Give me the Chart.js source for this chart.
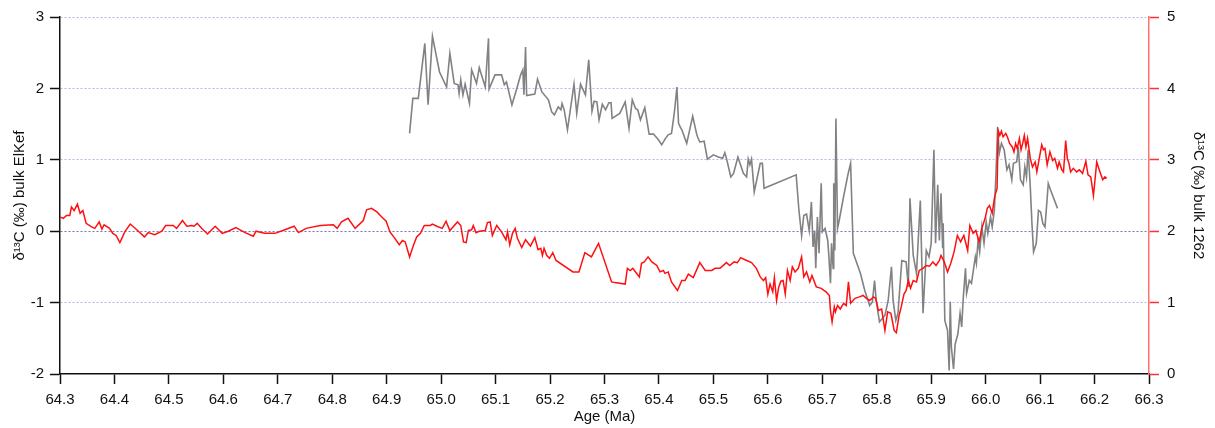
<!DOCTYPE html>
<html>
<head>
<meta charset="utf-8">
<script src="https://cdn.jsdelivr.net/npm/chart.js@4"></script>
<style>
  body { margin: 0; background: #fff; }
  canvas { display: block; }
</style>
</head>
<body>
<canvas id="chart" width="1215" height="428"></canvas>
<script>
// El Kef bulk d13C (left axis)
const ageElKef = [
  64.942, 64.948, 64.958, 64.970, 64.976, 64.984, 64.997, 65.010, 65.016, 65.024,
  65.031, 65.033, 65.036, 65.040, 65.044, 65.052, 65.056, 65.065, 65.070, 65.081,
  65.087, 65.088, 65.099, 65.111, 65.116, 65.120, 65.130, 65.139, 65.146, 65.150,
  65.152, 65.155, 65.157, 65.172, 65.177, 65.185, 65.197, 65.203, 65.208, 65.215,
  65.220, 65.222, 65.226, 65.232, 65.244, 65.249, 65.256, 65.265, 65.271, 65.277,
  65.281, 65.286, 65.290, 65.296, 65.302, 65.308, 65.312, 65.314, 65.328, 65.338,
  65.345, 65.351, 65.357, 65.361, 65.366, 65.374, 65.382, 65.390, 65.399, 65.405,
  65.412, 65.417, 65.423, 65.426, 65.429, 65.433, 65.436, 65.439, 65.442, 65.451,
  65.457, 65.462, 65.469, 65.471, 65.475, 65.483, 65.489, 65.500, 65.509, 65.517,
  65.521, 65.524, 65.532, 65.537, 65.545, 65.555, 65.561, 65.564, 65.567, 65.570,
  65.575, 65.586, 65.590, 65.593, 65.652, 65.657, 65.662, 65.666, 65.671, 65.676,
  65.680, 65.683, 65.686, 65.688, 65.691, 65.694, 65.698, 65.700, 65.705, 65.710,
  65.712, 65.715, 65.717, 65.720, 65.721, 65.723, 65.725, 65.728, 65.731, 65.739,
  65.747, 65.752, 65.757, 65.770, 65.778, 65.787, 65.792, 65.796, 65.799, 65.805,
  65.815, 65.821, 65.827, 65.830, 65.835, 65.839, 65.846, 65.854, 65.858, 65.861,
  65.867, 65.873, 65.880, 65.885, 65.891, 65.896, 65.900, 65.905, 65.908, 65.912,
  65.915, 65.918, 65.921, 65.922, 65.925, 65.930, 65.933, 65.935, 65.937, 65.941,
  65.944, 65.949, 65.953, 65.956, 65.959, 65.963, 65.965, 65.970, 65.974, 65.981,
  65.983, 65.986, 65.989, 65.993, 65.997, 66.001, 66.004, 66.009, 66.012, 66.016,
  66.019, 66.022, 66.025, 66.029, 66.034, 66.039, 66.043, 66.048, 66.051, 66.057,
  66.060, 66.064, 66.069, 66.072, 66.075, 66.078, 66.082, 66.085, 66.088, 66.093,
  66.097, 66.101, 66.105, 66.109, 66.115, 66.119, 66.132
];
const d13cElKef = [
  1.37, 1.86, 1.86, 2.63, 1.77, 2.73, 2.23, 2.02, 2.49, 2.07,
  2.05, 1.93, 2.12, 1.91, 2.06, 1.79, 2.26, 2.07, 2.29, 2.02,
  2.70, 1.99, 2.19, 2.19, 2.05, 2.09, 1.77, 2.00, 2.19, 2.26,
  1.91, 2.58, 1.90, 1.92, 2.13, 1.95, 1.84, 1.67, 1.63, 1.74,
  1.70, 1.79, 1.70, 1.42, 2.06, 1.65, 2.06, 1.91, 2.40, 1.68,
  1.82, 1.81, 1.56, 1.78, 1.70, 1.80, 1.80, 1.58, 1.65, 1.81,
  1.44, 1.84, 1.72, 1.70, 1.56, 1.73, 1.36, 1.36, 1.28, 1.21,
  1.30, 1.35, 1.37, 1.53, 1.71, 2.02, 1.51, 1.46, 1.42, 1.23,
  1.44, 1.61, 1.37, 1.32, 1.25, 1.26, 1.01, 1.07, 1.04, 1.02,
  1.10, 1.02, 0.76, 0.81, 1.04, 0.81, 0.76, 1.01, 0.93, 1.01,
  0.55, 0.95, 0.95, 0.60, 0.79, 0.30, -0.06, 0.22, 0.24, 0.01,
  0.41, -0.22, 0.01, -0.52, 0.20, -0.31, 0.67, -0.01, 0.04, -0.13,
  -0.34, -0.73, -0.17, -0.52, 0.67, -0.27, 1.58, 0.04, 0.15, 0.48,
  0.79, 0.95, -0.31, -0.59, -0.83, -1.04, -0.99, -0.69, -0.97, -1.27,
  -1.18, -0.97, -0.50, -0.97, -1.25, -1.15, -0.41, -0.43, -0.78, 0.46,
  -0.34, -0.59, 0.43, -1.15, -0.27, -0.36, -0.17, 1.14, -0.17, 0.65,
  -0.13, 0.53, -0.24, 0.11, -1.25, -1.39, -1.95, -0.99, -1.62, -1.93,
  -1.58, -1.44, -1.15, -1.34, -0.92, -0.52, -0.87, -0.69, -0.73, -0.36,
  -0.45, -0.13, -0.29, 0.06, -0.17, 0.13, -0.03, 0.20, 0.06, 0.29,
  0.81, 1.46, 1.09, 1.23, 1.14, 0.86, 0.93, 0.72, 0.95, 0.97,
  1.18, 0.72, 0.65, 0.90, 0.76, 1.14, 0.62, 0.11, -0.29, -0.17,
  0.29, 0.27, 0.11, 0.06, 0.67, 0.58, 0.32
];

// Site 1262 bulk d13C (right axis)
const age1262 = [
  64.300, 64.306, 64.312, 64.318, 64.321, 64.326, 64.332, 64.337, 64.342, 64.348,
  64.358, 64.364, 64.372, 64.377, 64.381, 64.391, 64.397, 64.403, 64.410, 64.419,
  64.429, 64.441, 64.455, 64.462, 64.474, 64.487, 64.494, 64.508, 64.514, 64.525,
  64.533, 64.542, 64.546, 64.552, 64.560, 64.571, 64.585, 64.598, 64.609, 64.623,
  64.640, 64.655, 64.660, 64.676, 64.695, 64.713, 64.730, 64.738, 64.752, 64.778,
  64.802, 64.809, 64.817, 64.829, 64.842, 64.857, 64.863, 64.872, 64.882, 64.891,
  64.899, 64.906, 64.915, 64.923, 64.929, 64.934, 64.942, 64.949, 64.955, 64.962,
  64.969, 64.980, 64.984, 64.992, 65.002, 65.009, 65.016, 65.030, 65.036, 65.041,
  65.046, 65.050, 65.056, 65.059, 65.064, 65.070, 65.081, 65.085, 65.090, 65.094,
  65.102, 65.111, 65.119, 65.122, 65.126, 65.131, 65.136, 65.140, 65.148, 65.155,
  65.164, 65.172, 65.178, 65.183, 65.186, 65.189, 65.194, 65.199, 65.205, 65.211,
  65.242, 65.253, 65.264, 65.276, 65.289, 65.313, 65.319, 65.338, 65.342, 65.347,
  65.352, 65.356, 65.364, 65.368, 65.373, 65.380, 65.387, 65.396, 65.402, 65.408,
  65.411, 65.417, 65.423, 65.434, 65.442, 65.448, 65.454, 65.463, 65.475, 65.485,
  65.497, 65.503, 65.512, 65.524, 65.530, 65.538, 65.544, 65.550, 65.558, 65.570,
  65.579, 65.586, 65.592, 65.596, 65.600, 65.604, 65.609, 65.612, 65.616, 65.620,
  65.624, 65.628, 65.632, 65.636, 65.641, 65.645, 65.650, 65.656, 65.662, 65.666,
  65.671, 65.677, 65.681, 65.689, 65.698, 65.703, 65.707, 65.713, 65.715, 65.718,
  65.722, 65.724, 65.728, 65.733, 65.739, 65.744, 65.748, 65.752, 65.760, 65.768,
  65.775, 65.781, 65.787, 65.794, 65.798, 65.803, 65.809, 65.815, 65.820, 65.826,
  65.832, 65.836, 65.841, 65.845, 65.850, 65.854, 65.858, 65.862, 65.867, 65.873,
  65.878, 65.885, 65.891, 65.897, 65.903, 65.909, 65.915, 65.918, 65.924, 65.930,
  65.936, 65.942, 65.948, 65.954, 65.960, 65.967, 65.971, 65.977, 65.982, 65.988,
  65.993, 65.999, 66.003, 66.007, 66.012, 66.016, 66.019, 66.021, 66.023, 66.026,
  66.029, 66.032, 66.037, 66.040, 66.044, 66.049, 66.052, 66.055, 66.058, 66.062,
  66.065, 66.068, 66.071, 66.074, 66.077, 66.082, 66.086, 66.091, 66.094, 66.099,
  66.103, 66.106, 66.109, 66.113, 66.118, 66.123, 66.127, 66.132, 66.135, 66.140,
  66.143, 66.147, 66.150, 66.153, 66.156, 66.161, 66.167, 66.172, 66.178, 66.184,
  66.188, 66.193, 66.198, 66.204, 66.210, 66.215, 66.219, 66.222
];
const d13c1262 = [
  2.20, 2.18, 2.22, 2.22, 2.34, 2.29, 2.38, 2.25, 2.29, 2.11,
  2.06, 2.04, 2.13, 2.03, 2.09, 2.04, 1.97, 1.94, 1.84, 1.99,
  2.10, 2.02, 1.92, 1.98, 1.95, 2.00, 2.08, 2.08, 2.04, 2.15,
  2.07, 2.08, 2.07, 2.11, 2.04, 1.96, 2.07, 1.97, 2.00, 2.05,
  1.98, 1.93, 2.00, 1.97, 1.97, 2.02, 2.07, 1.98, 2.04, 2.08,
  2.09, 2.04, 2.13, 2.18, 2.04, 2.15, 2.30, 2.32, 2.27, 2.20,
  2.14, 1.99, 1.90, 1.81, 1.87, 1.85, 1.64, 1.80, 1.92, 1.97,
  2.08, 2.08, 2.10, 2.07, 2.04, 2.14, 2.01, 2.13, 2.08, 1.85,
  1.84, 2.01, 2.02, 2.08, 1.98, 2.00, 2.01, 2.12, 2.13, 1.94,
  2.08, 1.99, 1.88, 1.99, 1.81, 1.97, 2.04, 1.90, 1.77, 1.88,
  1.79, 1.91, 1.74, 1.76, 1.66, 1.76, 1.66, 1.62, 1.70, 1.59,
  1.43, 1.43, 1.70, 1.64, 1.83, 1.29, 1.28, 1.26, 1.48, 1.45,
  1.48, 1.44, 1.36, 1.55, 1.57, 1.64, 1.57, 1.52, 1.43, 1.45,
  1.41, 1.43, 1.29, 1.17, 1.31, 1.31, 1.40, 1.35, 1.56, 1.45,
  1.45, 1.48, 1.48, 1.56, 1.52, 1.57, 1.56, 1.63, 1.60, 1.56,
  1.48, 1.36, 1.31, 1.35, 1.12, 1.26, 1.15, 1.35, 1.03, 1.22,
  1.30, 1.31, 1.12, 1.45, 1.31, 1.50, 1.43, 1.48, 1.64, 1.36,
  1.43, 1.29, 1.38, 1.22, 1.20, 1.17, 1.15, 1.10, 0.89, 0.73,
  0.94, 0.87, 0.96, 0.91, 0.99, 0.96, 1.29, 0.99, 1.06, 1.08,
  1.10, 1.06, 1.03, 1.08, 1.06, 0.89, 0.91, 0.61, 0.87, 0.85,
  0.61, 0.58, 0.82, 0.94, 1.12, 1.17, 1.31, 1.20, 1.31, 1.29,
  1.45, 1.48, 1.52, 1.51, 1.57, 1.52, 1.59, 1.66, 1.57, 1.43,
  1.55, 1.71, 1.94, 1.85, 1.94, 1.73, 2.08, 1.97, 2.01, 1.85,
  2.04, 2.18, 2.32, 2.36, 2.25, 2.46, 2.55, 2.60, 3.41, 3.34,
  3.40, 3.32, 3.37, 3.32, 3.23, 3.18, 3.11, 3.23, 3.16, 3.30,
  3.14, 3.23, 3.34, 3.18, 3.30, 3.02, 2.90, 2.97, 2.83, 3.04,
  3.21, 3.14, 3.16, 2.93, 3.11, 2.99, 3.02, 2.88, 2.97, 2.86,
  2.83, 3.27, 3.02, 2.95, 2.83, 2.88, 2.83, 2.86, 2.81, 2.98,
  2.79, 2.76, 2.50, 2.97, 2.83, 2.72, 2.76, 2.74
];

const xTicks = [64.3, 64.4, 64.5, 64.6, 64.7, 64.8, 64.9, 65.0, 65.1, 65.2, 65.3,
  65.4, 65.5, 65.6, 65.7, 65.8, 65.9, 66.0, 66.1, 66.2, 66.3];
const leftTicks = [-2, -1, 0, 1, 2, 3];
const rightTicks = [0, 1, 2, 3, 4, 5];

const toPoints = (xs, ys) => xs.map((x, i) => ({ x: x, y: ys[i] }));
const setTicks = (values) => (scale) => {
  scale.ticks = values.map(v => ({ value: v }));
};

const tickFont = { family: 'Liberation Sans, Arial, sans-serif', size: 15 };
const titleFont = { family: 'Liberation Sans, Arial, sans-serif', size: 15 };

const ctx = document.getElementById('chart').getContext('2d');
const myChart = new Chart(ctx, {
  type: 'line',
  data: {
    datasets: [
      {
        label: '1262',
        data: toPoints(age1262, d13c1262),
        yAxisID: 'yRight',
        borderColor: '#ff1010',
        borderWidth: 1.5,
        pointRadius: 0,
        tension: 0
      },
      {
        label: 'ElKef',
        data: toPoints(ageElKef, d13cElKef),
        yAxisID: 'yLeft',
        borderColor: '#828282',
        borderWidth: 1.6,
        pointRadius: 0,
        tension: 0
      }
    ]
  },
  options: {
    responsive: false,
    animation: false,
    events: [],
    layout: { padding: { top: 17, left: 0, right: 0, bottom: 0 } },
    plugins: {
      legend: { display: false },
      tooltip: { enabled: false }
    },
    scales: {
      x: {
        type: 'linear',
        min: 64.3,
        max: 66.3,
        afterBuildTicks: setTicks(xTicks),
        afterFit: (scale) => { scale.height = 54; },
        grid: {
          drawOnChartArea: false,
          tickLength: 10,
          tickColor: '#111',
          tickWidth: 1.5
        },
        border: { color: '#111', width: 1.5 },
        ticks: {
          font: tickFont,
          color: '#111',
          padding: 7,
          maxRotation: 0,
          autoSkip: false,
          callback: (v) => v.toFixed(1)
        },
        title: {
          display: true,
          text: 'Age (Ma)',
          font: titleFont,
          color: '#111',
          padding: { top: 0, bottom: 2 }
        }
      },
      yLeft: {
        type: 'linear',
        position: 'left',
        min: -2,
        max: 3,
        afterBuildTicks: setTicks(leftTicks),
        afterFit: (scale) => { scale.width = 60; },
        grid: {
          color: (c) => c.tick.value === 0 ? 'rgba(90,90,190,0.85)'
            : (c.tick.value === -2 ? 'rgba(0,0,0,0)' : 'rgba(150,150,225,0.7)'),
          lineWidth: 1,
          tickLength: 10,
          tickColor: '#111',
          tickWidth: 1.5
        },
        border: { color: '#111', width: 1.5, dash: [2, 2] },
        ticks: {
          font: tickFont,
          color: '#111',
          padding: 6,
          callback: (v) => String(v)
        },
        title: {
          display: true,
          text: 'δ¹³C (‰) bulk ElKef',
          font: titleFont,
          color: '#111',
          padding: { top: 11, bottom: 0 }
        }
      },
      yRight: {
        type: 'linear',
        position: 'right',
        min: 0,
        max: 5,
        afterBuildTicks: setTicks(rightTicks),
        afterFit: (scale) => { scale.width = 66; },
        grid: {
          drawOnChartArea: false,
          tickLength: 10,
          tickColor: '#ff3030',
          tickWidth: 1.5
        },
        border: { color: '#ff7070', width: 1.5 },
        ticks: {
          font: tickFont,
          color: '#111',
          padding: 8,
          callback: (v) => String(v)
        },
        title: {
          display: true,
          text: 'δ¹³C (‰) bulk 1262',
          font: titleFont,
          color: '#111',
          padding: { top: 8, bottom: 0 }
        }
      }
    }
  }
});
</script>
</body>
</html>
